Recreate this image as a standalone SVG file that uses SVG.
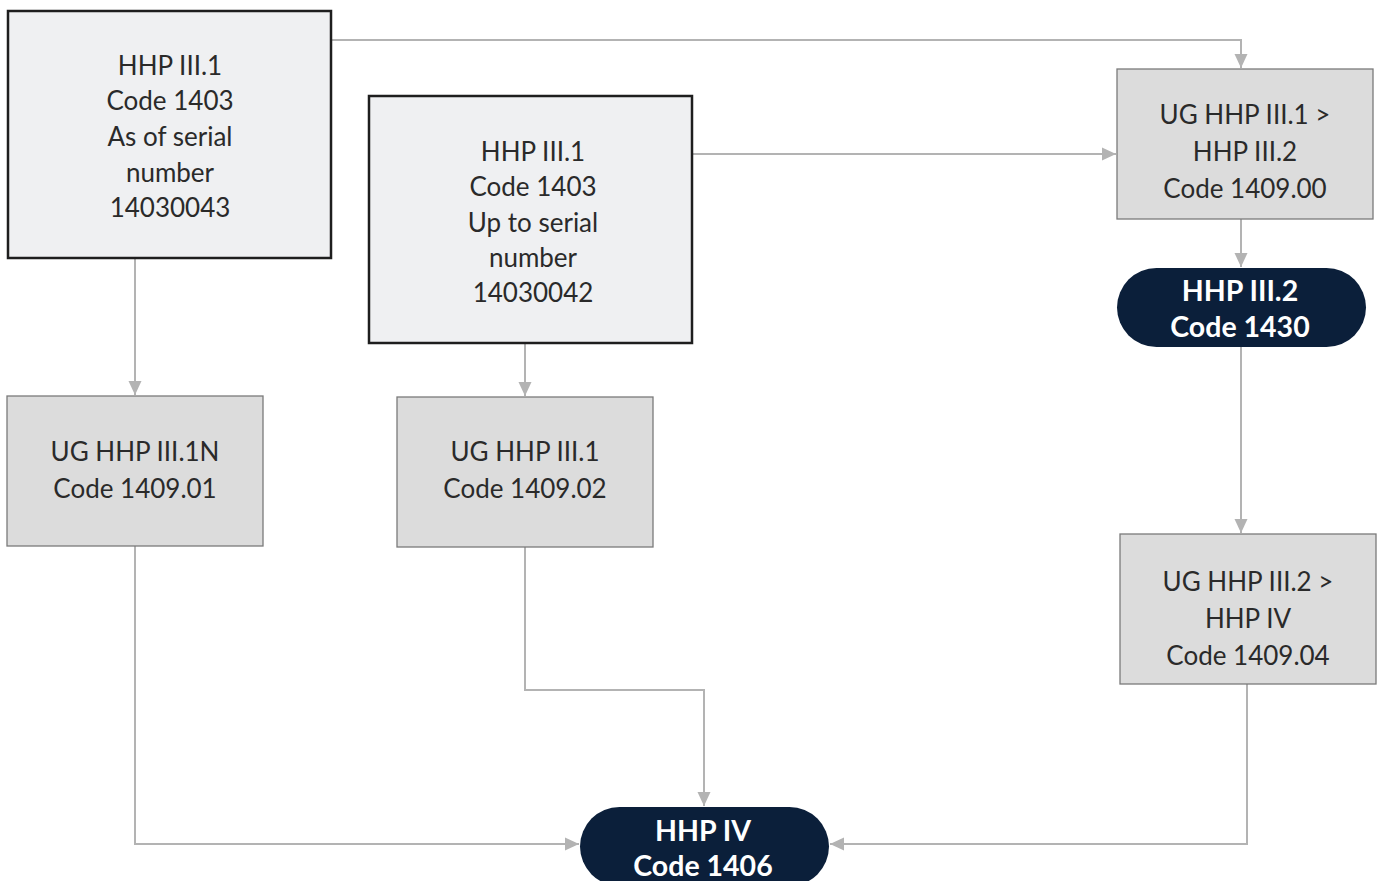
<svg xmlns="http://www.w3.org/2000/svg" width="1378" height="881" viewBox="0 0 1378 881">
<defs>
<marker id="arr" markerUnits="userSpaceOnUse" markerWidth="14" markerHeight="14" viewBox="0 0 14 14" refX="14" refY="7" orient="auto">
<path d="M0,0.5 L14,7 L0,13.5 Z" fill="#b3b3b3"/>
</marker>
<style>
.lt{fill:#eff0f2;stroke:#1e1e1e;stroke-width:2.5}
.gr{fill:#dcdcdc;stroke:#7a7a7a;stroke-width:1.3}
.pill{fill:#0b1f3a}
.t{font-family:Lato,"Liberation Sans",sans-serif;font-size:26px;fill:#2a2a2a;text-anchor:middle;dominant-baseline:central}
.b{font-family:Lato,"Liberation Sans",sans-serif;font-size:28.5px;font-weight:bold;fill:#ffffff;text-anchor:middle;dominant-baseline:central}
.c{fill:none;stroke:#b3b3b3;stroke-width:2;marker-end:url(#arr)}
</style>
</defs>
<rect width="1378" height="881" fill="#ffffff"/>
<g id="connectors">
<path class="c" d="M331 40 H1241 V68"/>
<path class="c" d="M692 154 H1116"/>
<path class="c" d="M1241 219 V267"/>
<path class="c" d="M1241 347 V533"/>
<path class="c" d="M135 258 V395"/>
<path class="c" d="M525 343 V396"/>
<path class="c" d="M525 547 V690 H704 V806"/>
<path class="c" d="M135 546 V844 H579"/>
<path class="c" d="M1247 684 V844 H830"/>
</g>
<g id="n1">
<rect class="lt" x="8" y="11" width="323" height="247"/>
<text class="t" x="170" y="65">HHP III.1</text>
<text class="t" x="170" y="100">Code 1403</text>
<text class="t" x="170" y="136">As of serial</text>
<text class="t" x="170" y="172">number</text>
<text class="t" x="170" y="207">14030043</text>
</g>
<g id="n2">
<rect class="lt" x="369" y="96" width="323" height="247"/>
<text class="t" x="533" y="151">HHP III.1</text>
<text class="t" x="533" y="186">Code 1403</text>
<text class="t" x="533" y="222">Up to serial</text>
<text class="t" x="533" y="257">number</text>
<text class="t" x="533" y="292">14030042</text>
</g>
<g id="n3">
<rect class="gr" x="7" y="396" width="256" height="150"/>
<text class="t" x="135" y="451">UG HHP III.1N</text>
<text class="t" x="135" y="488">Code 1409.01</text>
</g>
<g id="n4">
<rect class="gr" x="397" y="397" width="256" height="150"/>
<text class="t" x="525" y="451">UG HHP III.1</text>
<text class="t" x="525" y="488">Code 1409.02</text>
</g>
<g id="n5">
<rect class="gr" x="1117" y="69" width="256" height="150"/>
<text class="t" x="1245" y="114">UG HHP III.1 &gt;</text>
<text class="t" x="1245" y="151">HHP III.2</text>
<text class="t" x="1245" y="188">Code 1409.00</text>
</g>
<g id="n6">
<rect class="pill" x="1117" y="268" width="249" height="79" rx="39.5"/>
<text class="b" x="1240" y="290">HHP III.2</text>
<text class="b" x="1240" y="326">Code 1430</text>
</g>
<g id="n7">
<rect class="gr" x="1120" y="534" width="256" height="150"/>
<text class="t" x="1248" y="581">UG HHP III.2 &gt;</text>
<text class="t" x="1248" y="618">HHP IV</text>
<text class="t" x="1248" y="655">Code 1409.04</text>
</g>
<g id="n8">
<rect class="pill" x="580" y="807" width="249" height="79" rx="39.5"/>
<text class="b" x="703" y="830">HHP IV</text>
<text class="b" x="703" y="865">Code 1406</text>
</g>
</svg>
